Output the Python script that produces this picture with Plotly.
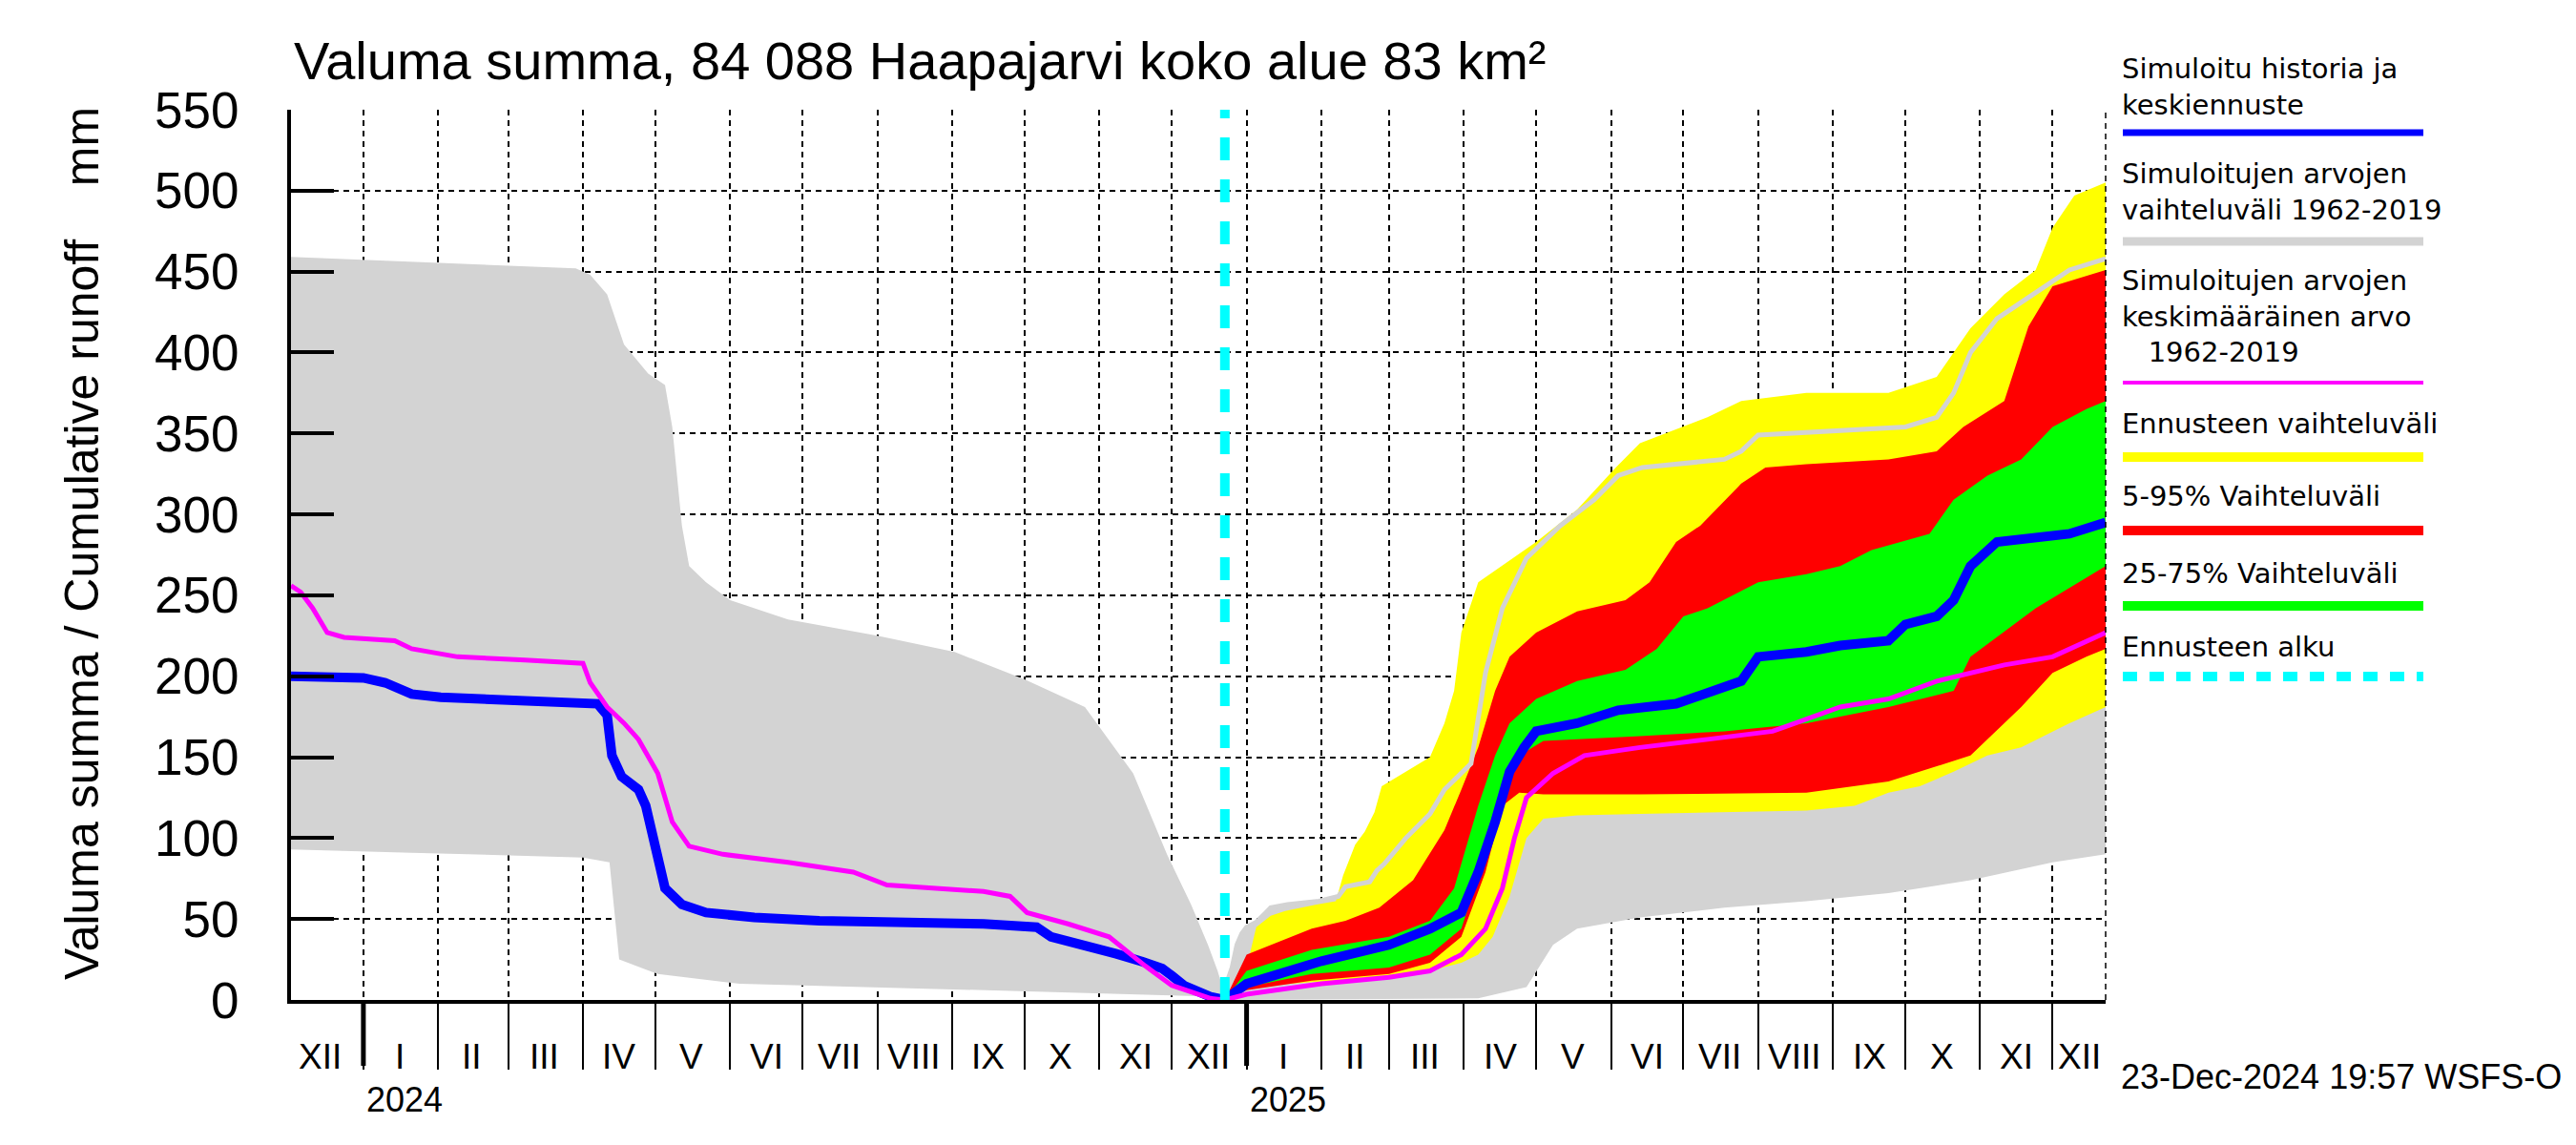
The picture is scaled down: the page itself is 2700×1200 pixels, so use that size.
import plotly.graph_objects as go

# ---------------- data ----------------
grey_up_dates = ["2023-12-02","2024-03-29","2024-04-04","2024-04-11","2024-04-18","2024-04-28","2024-05-05","2024-05-08","2024-05-12","2024-05-15","2024-05-22","2024-06-01","2024-06-25","2024-08-01","2024-09-02","2024-10-01","2024-10-26","2024-11-15","2024-11-29","2024-12-09","2024-12-16","2024-12-20","2024-12-22","2024-12-23",
                 "2024-12-26","2024-12-28","2024-12-30","2025-01-01","2025-01-05","2025-01-09","2025-01-11","2025-01-18","2025-01-31","2025-02-08","2025-02-11","2025-02-21","2025-02-24","2025-02-27","2025-03-08","2025-03-18","2025-03-24","2025-04-04","2025-04-10","2025-04-17","2025-04-27","2025-05-11","2025-05-25","2025-06-04","2025-06-14","2025-07-18","2025-07-25","2025-08-01","2025-09-04","2025-10-01","2025-10-14","2025-10-21","2025-10-28","2025-11-08","2025-11-18","2025-11-28","2025-12-08","2025-12-23"]
grey_up_vals = [459,452,448,436,405,387,380,354,293,268,258,247,235,225,215,198,181,140,90,59,34,18,8,7,
                20,34,41,45,48,54,57,59,61,64,70,73,80,84,100,115,130,146,202,242,273,293,309,324,329,334,339,349,352,354,360,375,400,421,431,441,451,458]

grey_lo_dates = ["2023-12-02","2024-01-21","2024-04-01","2024-04-12","2024-04-16","2024-05-02","2024-06-05","2024-09-15","2024-12-19","2024-12-23","2025-04-07","2025-04-27","2025-05-08","2025-05-18","2025-06-13","2025-07-18","2025-08-21","2025-09-24","2025-10-28","2025-12-01","2025-12-23"]
grey_lo_vals = [93,91,88,85,25,16,10,6,2,0,1,8,34,44,51,57,61,66,74,85,90]

yel_up_dates = ["2024-12-23","2025-01-01","2025-01-05","2025-01-11","2025-01-17","2025-01-30","2025-02-07","2025-02-10","2025-02-15","2025-02-19","2025-02-23","2025-02-26","2025-03-18","2025-03-24","2025-03-28","2025-03-31","2025-04-07","2025-05-01","2025-05-18","2025-06-03","2025-06-13","2025-07-11","2025-07-25","2025-08-21","2025-09-24","2025-10-14","2025-10-28","2025-11-11","2025-11-24","2025-12-01","2025-12-10","2025-12-23"]
yel_up_vals = [0,20,45,52,55,59,61,77,96,104,116,132,150,171,191,227,258,283,303,329,344,360,370,375,375,385,415,436,451,477,497,505]
yel_lo_dates = ["2024-12-23","2025-01-01","2025-01-28","2025-03-01","2025-03-18","2025-03-31","2025-04-07","2025-04-13","2025-04-20","2025-04-27","2025-05-04","2025-05-18","2025-06-13","2025-08-21","2025-09-10","2025-09-24","2025-10-07","2025-10-21","2025-11-04","2025-11-18","2025-12-08","2025-12-23"]
yel_lo_vals = [0,8,11,14,18,23,28,39,64,100,112,114,115,117,120,128,132,141,151,156,171,181]

red_up_dates = ["2024-12-23","2025-01-01","2025-01-28","2025-02-11","2025-02-25","2025-03-11","2025-03-24","2025-03-31","2025-04-07","2025-04-14","2025-04-20","2025-05-01","2025-05-18","2025-06-07","2025-06-17","2025-06-28","2025-07-08","2025-07-25","2025-08-04","2025-08-21","2025-09-24","2025-10-14","2025-10-25","2025-11-11","2025-11-21","2025-12-01","2025-12-23"]
red_up_vals = [0,28,44,49,57,74,105,130,156,191,212,227,240,247,258,283,293,319,329,331,334,339,354,370,416,441,451]
red_lo_dates = ["2024-12-23","2025-01-01","2025-01-28","2025-03-01","2025-03-18","2025-03-31","2025-04-10","2025-04-17","2025-04-24","2025-05-04","2025-06-13","2025-08-21","2025-09-24","2025-10-28","2025-11-18","2025-12-01","2025-12-15","2025-12-23"]
red_lo_vals = [0,6,12,16,23,39,79,120,128,127,127,128,135,151,181,202,212,217]

grn_up_dates = ["2024-12-23","2025-01-01","2025-01-28","2025-03-01","2025-03-18","2025-03-28","2025-04-07","2025-04-14","2025-04-20","2025-05-01","2025-05-18","2025-06-07","2025-06-20","2025-07-01","2025-07-11","2025-08-01","2025-08-21","2025-09-04","2025-09-17","2025-10-11","2025-10-21","2025-11-04","2025-11-18","2025-12-01","2025-12-15","2025-12-23"]
grn_up_vals = [0,18,31,39,49,69,120,151,171,186,197,204,217,237,242,258,263,268,278,288,309,324,334,354,365,370]
grn_lo_dates = ["2024-12-23","2025-01-01","2025-01-28","2025-03-01","2025-03-18","2025-03-31","2025-04-10","2025-04-17","2025-04-24","2025-05-04","2025-06-13","2025-07-18","2025-08-21","2025-09-24","2025-10-21","2025-10-28","2025-11-24","2025-12-23"]
grn_lo_vals = [0,8,16,20,28,44,90,130,151,160,163,166,171,181,191,212,242,268]

blue_dates = ["2023-12-02","2024-01-01","2024-01-10","2024-01-21","2024-02-02","2024-02-23","2024-03-15","2024-04-07","2024-04-11","2024-04-13","2024-04-17","2024-04-24","2024-04-27","2024-05-02","2024-05-05","2024-05-12","2024-05-22","2024-06-11","2024-07-08","2024-09-14","2024-10-06","2024-10-12","2024-10-26","2024-11-08","2024-11-19","2024-11-27","2024-12-01","2024-12-06","2024-12-17","2024-12-23",
              "2025-01-01","2025-02-01","2025-03-01","2025-03-18","2025-03-31","2025-04-07","2025-04-14","2025-04-20","2025-04-26","2025-05-01","2025-05-18","2025-06-04","2025-06-28","2025-07-11","2025-07-25","2025-08-01","2025-08-21","2025-09-04","2025-09-24","2025-10-01","2025-10-14","2025-10-21","2025-10-28","2025-11-08","2025-11-18","2025-12-08","2025-12-23"]
blue_vals = [200,199,196,189,187,186,185,183,176,151,138,130,120,90,69,59,54,51,49,47,45,39,34,28.5,23.6,19.5,15,9,2,0,
             10,24,34,44,54,79,110,141,156,166,171,179,183,189,197,212,215,219,222,232,237,247,268,283,285,288,295]

mag_dates = ["2023-12-02","2023-12-06","2023-12-11","2023-12-17","2023-12-24","2024-01-14","2024-01-21","2024-02-09","2024-03-08","2024-04-01","2024-04-04","2024-04-11","2024-04-18","2024-04-24","2024-05-02","2024-05-08","2024-05-15","2024-05-29","2024-06-25","2024-07-22","2024-08-05","2024-09-14","2024-09-25","2024-10-02","2024-10-19","2024-11-05","2024-11-20","2024-12-01","2024-12-17","2024-12-23",
             "2025-01-01","2025-02-01","2025-03-01","2025-03-18","2025-03-31","2025-04-10","2025-04-17","2025-04-22","2025-04-27","2025-05-08","2025-05-21","2025-06-13","2025-07-11","2025-08-07","2025-09-04","2025-09-24","2025-10-14","2025-11-11","2025-12-01","2025-12-08","2025-12-23"]
mag_vals = [256,252,242,227,224,222,217,212,210,208,196,181,171,161,140,110,95,90,85,79,71,67,64,54,47,39,21,9,1,0,
            3.5,10,14,18,28,44,69,100,125,140,151,156,161,166,181,186,197,207,212,217,227]

forecast_start = "2024-12-23"
x_range = ["2023-12-02", "2025-12-23"]
y_ticks = list(range(0, 551, 50))
month_starts = ["2024-01-01","2024-02-01","2024-03-01","2024-04-01","2024-05-01","2024-06-01","2024-07-01","2024-08-01","2024-09-01","2024-10-01","2024-11-01","2024-12-01",
                "2025-01-01","2025-02-01","2025-03-01","2025-04-01","2025-05-01","2025-06-01","2025-07-01","2025-08-01","2025-09-01","2025-10-01","2025-11-01","2025-12-01"]
month_label_pos = ["2023-12-14","2024-01-16","2024-02-15","2024-03-16","2024-04-16","2024-05-16","2024-06-16","2024-07-16","2024-08-16","2024-09-16","2024-10-16","2024-11-16","2024-12-16",
                   "2025-01-16","2025-02-15","2025-03-16","2025-04-16","2025-05-16","2025-06-16","2025-07-16","2025-08-16","2025-09-16","2025-10-16","2025-11-16","2025-12-12"]
month_labels = ["XII","I","II","III","IV","V","VI","VII","VIII","IX","X","XI","XII",
                "I","II","III","IV","V","VI","VII","VIII","IX","X","XI","XII"]
year_starts = ["2024-01-01", "2025-01-01"]
year_labels = ["2024", "2025"]

title_text = "Valuma summa, 84 088 Haapajarvi koko alue 83 km²"
ylabel_text = "Valuma summa / Cumulative runoff    mm"
stamp_text = "23-Dec-2024 19:57 WSFS-O"

legend_texts = [
    "Simuloitu historia ja<br>keskiennuste",
    "Simuloitujen arvojen<br>vaihteluväli 1962-2019",
    "Simuloitujen arvojen<br>keskimääräinen arvo<br>   1962-2019",
    "Ennusteen vaihteluväli",
    "5-95% Vaihteluväli",
    "25-75% Vaihteluväli",
    "Ennusteen alku",
]
legend_colors = ["#0000ff", "#d3d3d3", "#ff00ff", "#ffff00", "#ff0000", "#00ff00", "#00ffff"]
legend_widths = [7, 9, 4, 10, 10, 10, 10]
legend_dash = [None, None, None, None, None, None, "15px,13px"]

# ---------------- layout geometry (pixels of the reference) ----------------
OFF = 8                       # page body margin
W, H = 2700 - OFF, 1200 - OFF
L, R, T, B = 305, 2207, 115, 1048
def px(x):
    return (x - L) / (R - L)
def py(y):
    return (B - y) / (B - T)

FONT = "Liberation Sans, Arial, sans-serif"
LFONT = "DejaVu Sans, sans-serif"

fig = go.Figure()

def band(xu, yu, xl, yl, color):
    fig.add_trace(go.Scatter(x=list(xu) + list(xl)[::-1], y=list(yu) + list(yl)[::-1],
                             fill="toself", fillcolor=color, mode="none",
                             line=dict(width=0), hoverinfo="skip", showlegend=False))

band(grey_up_dates, grey_up_vals, grey_lo_dates, grey_lo_vals, "#d3d3d3")
band(yel_up_dates, yel_up_vals, yel_lo_dates, yel_lo_vals, "#ffff00")
band(red_up_dates, red_up_vals, red_lo_dates, red_lo_vals, "#ff0000")
band(grn_up_dates, grn_up_vals, grn_lo_dates, grn_lo_vals, "#00ff00")

fc_idx = grey_up_dates.index(forecast_start)
fig.add_trace(go.Scatter(x=grey_up_dates[fc_idx:], y=grey_up_vals[fc_idx:], mode="lines",
                         line=dict(color="#d3d3d3", width=5), showlegend=False, hoverinfo="skip"))
fig.add_trace(go.Scatter(x=blue_dates, y=blue_vals, mode="lines",
                         line=dict(color="#0000ff", width=10), showlegend=False))
fig.add_trace(go.Scatter(x=mag_dates, y=mag_vals, mode="lines",
                         line=dict(color="#ff00ff", width=5), showlegend=False))

shapes = []
shapes.append(dict(type="line", xref="x", yref="y", x0=forecast_start, x1=forecast_start, y0=0, y1=550,
                   line=dict(color="#00ffff", width=10, dash="24px,20px")))
shapes.append(dict(type="line", xref="paper", yref="paper", x0=1, x1=1, y0=0, y1=1,
                   line=dict(color="black", width=1.5, dash="6px,5px")))
for ys in year_starts:
    shapes.append(dict(type="line", xref="x", yref="paper", x0=ys, x1=ys, y0=0, y1=py(1117),
                       line=dict(color="black", width=5)))

annotations = []
for pos, lab in zip(month_label_pos, month_labels):
    annotations.append(dict(x=pos, y=py(1107), xref="x", yref="paper", text=lab, showarrow=False,
                            xanchor="center", yanchor="middle", font=dict(family=FONT, size=37, color="black")))
for ys, lab in zip(year_starts, year_labels):
    annotations.append(dict(x=ys, y=py(1152), xref="x", yref="paper", text=lab, showarrow=False,
                            xanchor="left", yanchor="middle", xshift=1, font=dict(family=FONT, size=36, color="black")))
annotations.append(dict(x=px(306), y=py(63), xref="paper", yref="paper", text=title_text, showarrow=False,
                        xanchor="left", yanchor="middle", font=dict(family=FONT, size=56, color="black")))
annotations.append(dict(x=px(86), y=py(570), xref="paper", yref="paper", text=ylabel_text, showarrow=False,
                        textangle=-90, xanchor="center", yanchor="middle", font=dict(family=FONT, size=50, color="black")))
annotations.append(dict(x=px(2221), y=py(1128), xref="paper", yref="paper", text=stamp_text, showarrow=False,
                        xanchor="left", yanchor="middle", font=dict(family=FONT, size=36, color="black")))

# legend: text block centres and sample-line positions (reference pixels)
text_centres = [91, 201, 331, 444, 520, 601, 678]
line_y = [139, 253, 401, 479, 556, 635, 709]
for txt, tc, ly, col, wid, dash in zip(legend_texts, text_centres, line_y, legend_colors, legend_widths, legend_dash):
    annotations.append(dict(x=px(2222), y=py(tc), xref="paper", yref="paper", text=txt, showarrow=False,
                            xanchor="left", yanchor="middle", align="left",
                            font=dict(family=LFONT, size=29, color="black")))
    ln = dict(color=col, width=wid)
    if dash:
        ln["dash"] = dash
    shapes.append(dict(type="line", xref="paper", yref="paper", x0=px(2225), x1=px(2540), y0=py(ly), y1=py(ly), line=ln))

fig.update_layout(
    width=W, height=H, autosize=False,
    margin=dict(l=L - OFF, r=W - (R - OFF), t=T - OFF, b=H - (B - OFF), pad=0),
    paper_bgcolor="white", plot_bgcolor="white",
    showlegend=False, shapes=shapes, annotations=annotations,
    xaxis=dict(type="date", range=x_range, tickvals=month_starts, showticklabels=False,
               ticks="outside", ticklen=69, tickwidth=2, tickcolor="black",
               showgrid=True, gridcolor="black", gridwidth=1.5, griddash="6px,5px",
               showline=True, linecolor="black", linewidth=4, layer="above traces", zeroline=False),
    yaxis=dict(range=[0, 550], tickvals=y_ticks, ticks="inside", ticklen=45, tickwidth=4, tickcolor="black",
               showgrid=True, gridcolor="black", gridwidth=1.5, griddash="6px,5px",
               showline=True, linecolor="black", linewidth=4, layer="above traces", zeroline=False,
               tickfont=dict(family=FONT, size=53, color="black"), ticklabelstandoff=40),
)

fig.write_html("out.html")
